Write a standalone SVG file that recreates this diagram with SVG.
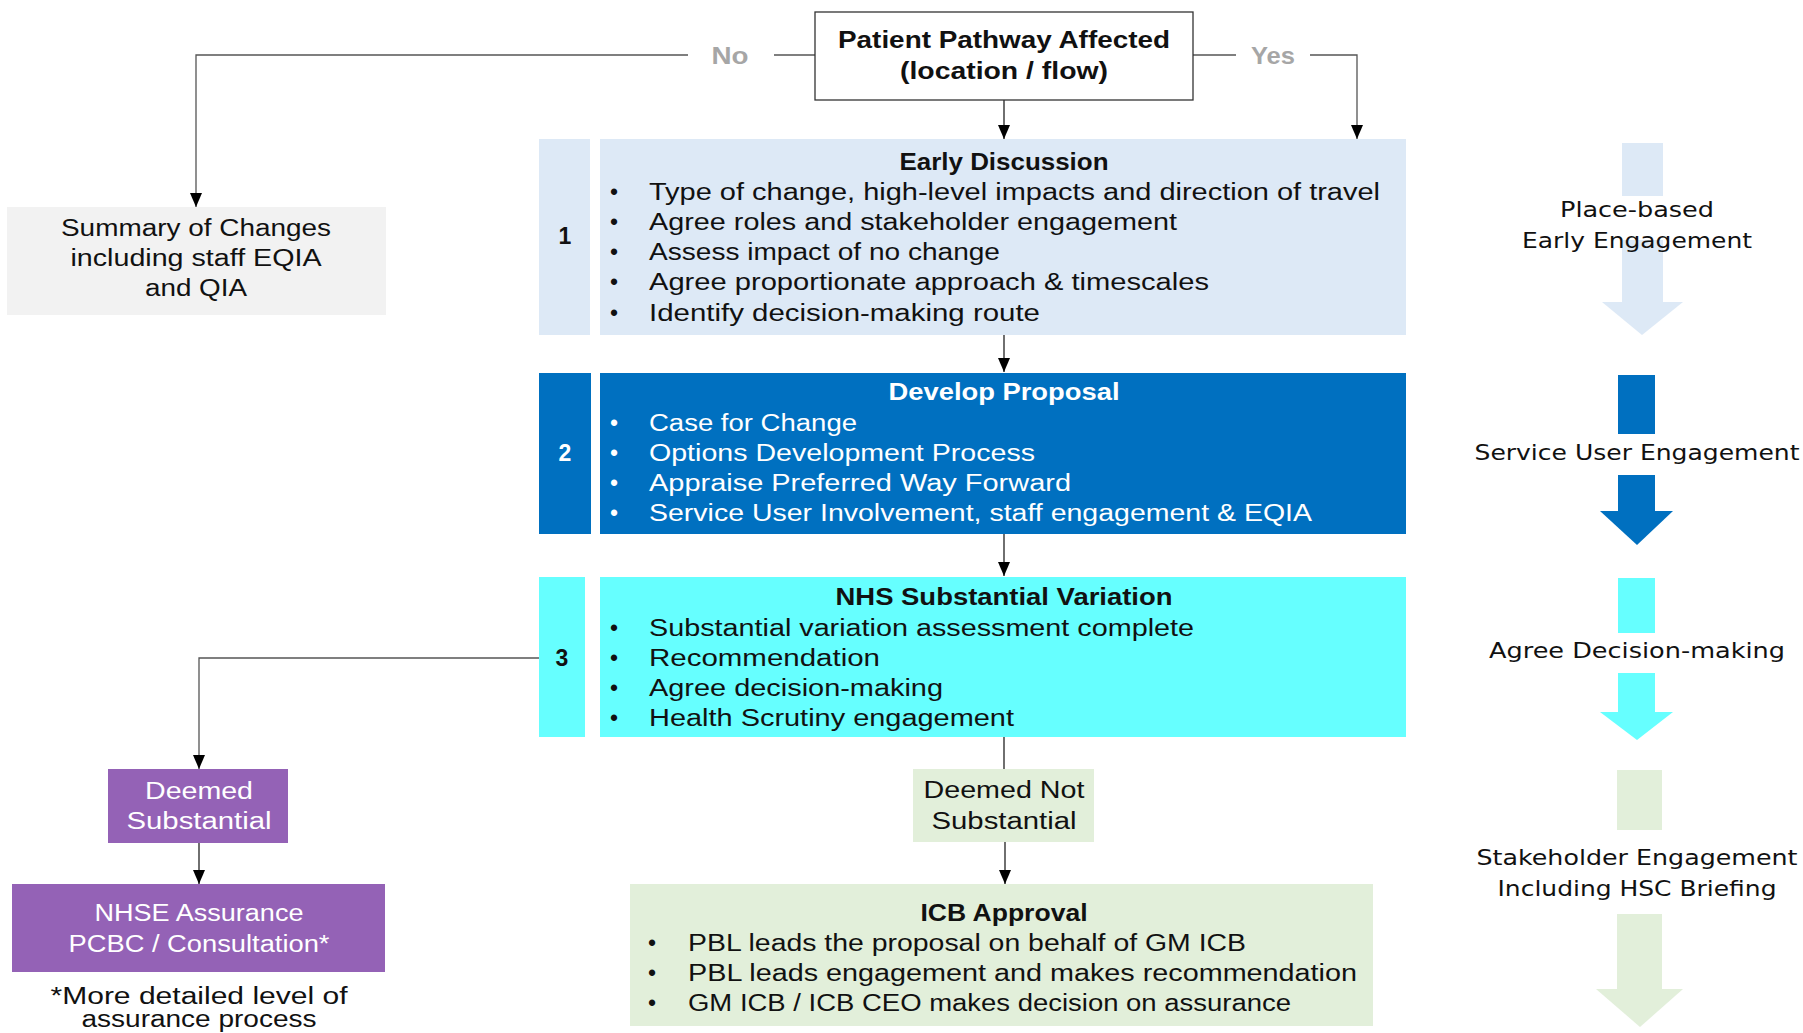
<svg xmlns="http://www.w3.org/2000/svg" width="1803" height="1033" viewBox="0 0 1803 1033">
  <style>
    text { font-family: "Liberation Sans", Arial, sans-serif; font-size: 23px; fill: #111; }
    .b { font-weight: bold; }
    .c { text-anchor: middle; }
    .w { fill: #ffffff; }
    .lbl { fill: #a6a6a6; font-size: 24px; font-weight: bold; }
    .side { font-family: "DejaVu Sans", Verdana, sans-serif; font-size: 21px; text-anchor: middle; fill: #111; }
    .conn { fill: none; stroke: #222; stroke-width: 1.3; }
    .grey { fill: none; stroke: #555; stroke-width: 1.3; }
    .s1 { fill: #dde9f6; }
    .s2 { fill: #0070c0; }
    .s3 { fill: #66ffff; }
    .s4 { fill: #e2efda; }
    .pur { fill: #9462b6; }
  </style>
  <defs>
    <marker id="down" viewBox="0 0 12 14" refX="6" refY="14" markerWidth="12" markerHeight="14" markerUnits="userSpaceOnUse" orient="0">
      <path d="M0,0 L12,0 L6,14 Z" fill="#000"/>
    </marker>
  </defs>

  <!-- connectors -->
  <g id="connectors">
    <polyline class="grey" points="815,55 774,55"/>
    <polyline class="grey" points="688,55 196,55 196,207" marker-end="url(#down)"/>
    <text class="lbl c" x="730" y="64" textLength="37" lengthAdjust="spacingAndGlyphs">No</text>
    <polyline class="grey" points="1193,55 1236,55"/>
    <polyline class="grey" points="1310,55 1357,55 1357,139" marker-end="url(#down)"/>
    <text class="lbl c" x="1273" y="64" textLength="44" lengthAdjust="spacingAndGlyphs">Yes</text>
    <line class="conn" x1="1004" y1="100" x2="1004" y2="139" marker-end="url(#down)"/>
    <line class="conn" x1="1004" y1="335" x2="1004" y2="372" marker-end="url(#down)"/>
    <line class="conn" x1="1004" y1="534" x2="1004" y2="576" marker-end="url(#down)"/>
    <polyline class="grey" points="539,658 199,658 199,769" marker-end="url(#down)"/>
    <line class="conn" x1="199" y1="843" x2="199" y2="884" marker-end="url(#down)"/>
    <line class="conn" x1="1004" y1="737" x2="1004" y2="769"/>
    <line class="conn" x1="1005" y1="842" x2="1005" y2="884" marker-end="url(#down)"/>
  </g>

  <!-- decision start -->
  <g id="pathway">
    <rect x="815" y="12" width="378" height="88" fill="#fff" stroke="#333" stroke-width="1.3"/>
    <text class="b c" x="1004" y="48" textLength="332" lengthAdjust="spacingAndGlyphs">Patient Pathway Affected</text>
    <text class="b c" x="1004" y="79" textLength="208" lengthAdjust="spacingAndGlyphs">(location / flow)</text>
  </g>

  <g id="summary">
    <rect x="7" y="207" width="379" height="108" fill="#f2f2f2"/>
    <text class="c" x="196" y="236" textLength="270" lengthAdjust="spacingAndGlyphs">Summary of Changes</text>
    <text class="c" x="196" y="266" textLength="251" lengthAdjust="spacingAndGlyphs">including staff EQIA</text>
    <text class="c" x="196" y="296" textLength="102" lengthAdjust="spacingAndGlyphs">and QIA</text>
  </g>

  <!-- stage 1 -->
  <g id="stage1">
    <rect class="s1" x="539" y="139" width="51" height="196"/>
    <text class="b c" x="565" y="244">1</text>
    <rect class="s1" x="600" y="139" width="806" height="196"/>
    <text class="b c" x="1004" y="170" textLength="209" lengthAdjust="spacingAndGlyphs">Early Discussion</text>
    <g>
      <text x="610" y="200">•</text><text x="649" y="200" textLength="731" lengthAdjust="spacingAndGlyphs">Type of change, high-level impacts and direction of travel</text>
      <text x="610" y="230">•</text><text x="649" y="230" textLength="528" lengthAdjust="spacingAndGlyphs">Agree roles and stakeholder engagement</text>
      <text x="610" y="260">•</text><text x="649" y="260" textLength="351" lengthAdjust="spacingAndGlyphs">Assess impact of no change</text>
      <text x="610" y="290">•</text><text x="649" y="290" textLength="560" lengthAdjust="spacingAndGlyphs">Agree proportionate approach &amp; timescales</text>
      <text x="610" y="321">•</text><text x="649" y="321" textLength="391" lengthAdjust="spacingAndGlyphs">Identify decision-making route</text>
    </g>
  </g>

  <!-- stage 2 -->
  <g id="stage2">
    <rect class="s2" x="539" y="373" width="52" height="161"/>
    <text class="b c w" x="565" y="461">2</text>
    <rect class="s2" x="600" y="373" width="806" height="161"/>
    <text class="b c w" x="1004" y="400" textLength="231" lengthAdjust="spacingAndGlyphs">Develop Proposal</text>
    <g>
      <text class="w" x="610" y="431">•</text><text class="w" x="649" y="431" textLength="208" lengthAdjust="spacingAndGlyphs">Case for Change</text>
      <text class="w" x="610" y="461">•</text><text class="w" x="649" y="461" textLength="386" lengthAdjust="spacingAndGlyphs">Options Development Process</text>
      <text class="w" x="610" y="491">•</text><text class="w" x="649" y="491" textLength="422" lengthAdjust="spacingAndGlyphs">Appraise Preferred Way Forward</text>
      <text class="w" x="610" y="521">•</text><text class="w" x="649" y="521" textLength="663" lengthAdjust="spacingAndGlyphs">Service User Involvement, staff engagement &amp; EQIA</text>
    </g>
  </g>

  <!-- stage 3 -->
  <g id="stage3">
    <rect class="s3" x="539" y="577" width="46" height="160"/>
    <text class="b c" x="562" y="666">3</text>
    <rect class="s3" x="600" y="577" width="806" height="160"/>
    <text class="b c" x="1004" y="605" textLength="337" lengthAdjust="spacingAndGlyphs">NHS Substantial Variation</text>
    <g>
      <text x="610" y="636">•</text><text x="649" y="636" textLength="545" lengthAdjust="spacingAndGlyphs">Substantial variation assessment complete</text>
      <text x="610" y="666">•</text><text x="649" y="666" textLength="231" lengthAdjust="spacingAndGlyphs">Recommendation</text>
      <text x="610" y="696">•</text><text x="649" y="696" textLength="294" lengthAdjust="spacingAndGlyphs">Agree decision-making</text>
      <text x="610" y="726">•</text><text x="649" y="726" textLength="365" lengthAdjust="spacingAndGlyphs">Health Scrutiny engagement</text>
    </g>
  </g>

  <!-- substantial branch -->
  <g id="deemed-substantial">
    <rect class="pur" x="108" y="769" width="180" height="74"/>
    <text class="c w" x="199" y="799" textLength="108" lengthAdjust="spacingAndGlyphs">Deemed</text>
    <text class="c w" x="199" y="829" textLength="145" lengthAdjust="spacingAndGlyphs">Substantial</text>
  </g>
  <g id="nhse-assurance">
    <rect class="pur" x="12" y="884" width="373" height="88"/>
    <text class="c w" x="199" y="921" textLength="209" lengthAdjust="spacingAndGlyphs">NHSE Assurance</text>
    <text class="c w" x="199" y="952" textLength="261" lengthAdjust="spacingAndGlyphs">PCBC / Consultation*</text>
  </g>
  <g id="footnote">
    <text class="c" x="199" y="1004" textLength="297" lengthAdjust="spacingAndGlyphs">*More detailed level of</text>
    <text class="c" x="199" y="1027" font-size="22" textLength="235" lengthAdjust="spacingAndGlyphs">assurance process</text>
  </g>

  <!-- not substantial branch -->
  <g id="deemed-not-substantial">
    <rect class="s4" x="913" y="769" width="181" height="73"/>
    <text class="c" x="1004" y="798" textLength="161" lengthAdjust="spacingAndGlyphs">Deemed Not</text>
    <text class="c" x="1004" y="829" textLength="145" lengthAdjust="spacingAndGlyphs">Substantial</text>
  </g>
  <g id="icb-approval">
    <rect class="s4" x="630" y="884" width="743" height="142"/>
    <text class="b c" x="1004" y="921" textLength="167" lengthAdjust="spacingAndGlyphs">ICB Approval</text>
    <text x="648" y="951">•</text><text x="688" y="951" textLength="558" lengthAdjust="spacingAndGlyphs">PBL leads the proposal  on behalf of GM ICB</text>
    <text x="648" y="981">•</text><text x="688" y="981" textLength="669" lengthAdjust="spacingAndGlyphs">PBL leads engagement and makes  recommendation</text>
    <text x="648" y="1011">•</text><text x="688" y="1011" textLength="603" lengthAdjust="spacingAndGlyphs">GM ICB / ICB CEO makes decision on assurance</text>
  </g>

  <!-- engagement column -->
  <g id="engage1">
    <rect class="s1" x="1622" y="143" width="41" height="53"/>
    <rect class="s1" x="1622" y="240" width="41" height="62"/>
    <polygon class="s1" points="1602,302 1683,302 1642,335"/>
    <text class="side" x="1637" y="217" textLength="154" lengthAdjust="spacingAndGlyphs">Place-based</text>
    <text class="side" x="1637" y="248" textLength="230" lengthAdjust="spacingAndGlyphs">Early Engagement</text>
  </g>
  <g id="engage2">
    <rect class="s2" x="1618" y="375" width="37" height="59"/>
    <rect class="s2" x="1618" y="475" width="37" height="37"/>
    <polygon class="s2" points="1600,511 1673,511 1637,545"/>
    <text class="side" x="1637" y="460" textLength="325" lengthAdjust="spacingAndGlyphs">Service User Engagement</text>
  </g>
  <g id="engage3">
    <rect class="s3" x="1618" y="578" width="37" height="55"/>
    <rect class="s3" x="1618" y="673" width="37" height="40"/>
    <polygon class="s3" points="1600,712 1673,712 1637,740"/>
    <text class="side" x="1637" y="658" textLength="296" lengthAdjust="spacingAndGlyphs">Agree Decision-making</text>
  </g>
  <g id="engage4">
    <rect class="s4" x="1617" y="770" width="45" height="60"/>
    <rect class="s4" x="1617" y="914" width="45" height="76"/>
    <polygon class="s4" points="1596,989 1683,989 1640,1027"/>
    <text class="side" x="1637" y="865" textLength="321" lengthAdjust="spacingAndGlyphs">Stakeholder Engagement</text>
    <text class="side" x="1637" y="896" textLength="279" lengthAdjust="spacingAndGlyphs">Including HSC Briefing</text>
  </g>
</svg>
